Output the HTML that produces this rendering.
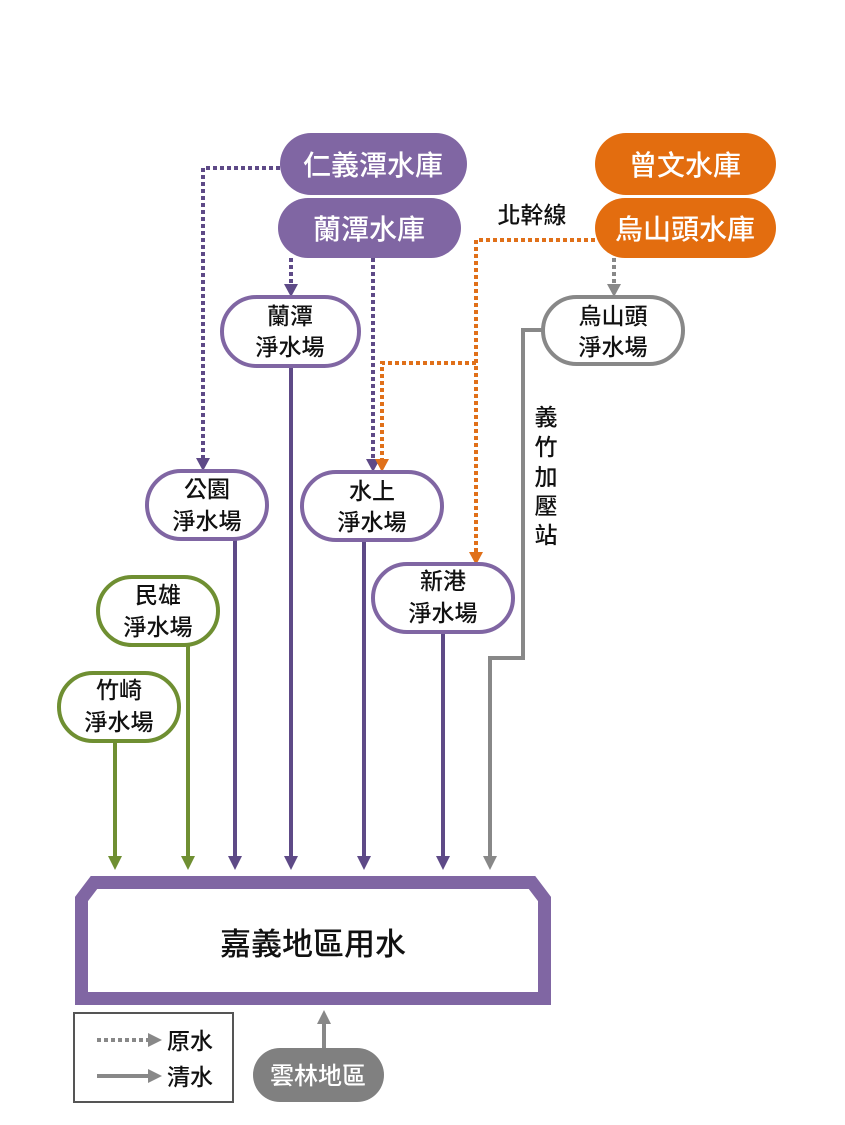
<!DOCTYPE html>
<html><head><meta charset="utf-8"><style>
html,body{margin:0;padding:0;background:#fff;}
svg{display:block;}
text{font-family:"Liberation Sans","Noto Sans CJK TC",sans-serif;font-weight:500;}
</style></head><body>
<svg width="845" height="1125" viewBox="0 0 845 1125" xmlns="http://www.w3.org/2000/svg">
<g fill="none" stroke-width="4" stroke-dasharray="4 3">
<path d="M280 168 H203 V460" stroke="#5e4a87"/>
<path d="M291 258 V286" stroke="#5e4a87"/>
<path d="M373 258 V462" stroke="#5e4a87"/>
<path d="M595 240 H476 V555" stroke="#e07019"/>
<path d="M476 363 H382 V462" stroke="#e07019"/>
<path d="M614 258 V286" stroke="#888"/>
</g>
<g>
<polygon points="196,458 210,458 203,471" fill="#5e4a87"/>
<polygon points="284,284 298,284 291,297" fill="#5e4a87"/>
<polygon points="366,459 380,459 373,472" fill="#5e4a87"/>
<polygon points="375,459 389,459 382,472" fill="#e07019"/>
<polygon points="469,552 483,552 476,565" fill="#e07019"/>
<polygon points="607,284 621,284 614,297" fill="#888"/>
</g>
<g fill="none" stroke-width="4">
<path d="M115 742 V858" stroke="#6f8f32"/>
<path d="M188 645 V858" stroke="#6f8f32"/>
<path d="M235 540 V858" stroke="#5e4a87"/>
<path d="M291 367 V858" stroke="#5e4a87"/>
<path d="M364 540 V858" stroke="#5e4a87"/>
<path d="M443 632 V858" stroke="#5e4a87"/>
<path d="M545 330 H523 V658 H490 V858" stroke="#888"/>
<path d="M324 1048 V1022" stroke="#888"/>
</g>
<g>
<polygon points="108,856 122,856 115,870" fill="#6f8f32"/>
<polygon points="181,856 195,856 188,870" fill="#6f8f32"/>
<polygon points="228,856 242,856 235,870" fill="#5e4a87"/>
<polygon points="284,856 298,856 291,870" fill="#5e4a87"/>
<polygon points="357,856 371,856 364,870" fill="#5e4a87"/>
<polygon points="436,856 450,856 443,870" fill="#5e4a87"/>
<polygon points="483,856 497,856 490,870" fill="#888"/>
<polygon points="317,1024 331,1024 324,1010" fill="#888"/>
</g>
<rect x="280" y="133" width="187" height="62" rx="31" fill="#8066a3"/>
<text x="373" y="175" font-size="28" fill="#fff" text-anchor="middle">仁義潭水庫</text>
<rect x="278" y="198" width="183" height="60" rx="30" fill="#8066a3"/>
<text x="369" y="239" font-size="28" fill="#fff" text-anchor="middle">蘭潭水庫</text>
<rect x="595" y="133" width="181" height="62" rx="31" fill="#e36d0f"/>
<text x="685" y="175" font-size="28" fill="#fff" text-anchor="middle">曾文水庫</text>
<rect x="595" y="198" width="181" height="60" rx="30" fill="#e36d0f"/>
<text x="685" y="239" font-size="28" fill="#fff" text-anchor="middle">烏山頭水庫</text>
<text x="532" y="223" font-size="23" fill="#111" text-anchor="middle">北幹線</text>
<g fill="#fff" stroke-width="4">
<rect x="222" y="297" width="137" height="69" rx="34.5" stroke="#8066a3"/>
<rect x="543" y="297" width="140" height="67" rx="33.5" stroke="#888"/>
<rect x="147" y="471" width="120" height="68" rx="34" stroke="#8066a3"/>
<rect x="302" y="472" width="140" height="68" rx="34" stroke="#8066a3"/>
<rect x="373" y="564" width="140" height="68" rx="34" stroke="#8066a3"/>
<rect x="98" y="577" width="120" height="68" rx="34" stroke="#6f8f32"/>
<rect x="59" y="673" width="120" height="68" rx="34" stroke="#6f8f32"/>
</g>
<g font-size="23" fill="#111" text-anchor="middle">
<text x="290" y="324">蘭潭</text><text x="290" y="355">淨水場</text>
<text x="613" y="324">烏山頭</text><text x="613" y="355">淨水場</text>
<text x="207" y="497">公園</text><text x="207" y="529">淨水場</text>
<text x="372" y="499">水上</text><text x="372" y="530">淨水場</text>
<text x="443" y="589">新港</text><text x="443" y="621">淨水場</text>
<text x="158" y="603">民雄</text><text x="158" y="635">淨水場</text>
<text x="119" y="698">竹崎</text><text x="119" y="730">淨水場</text>
</g>
<g font-size="23" fill="#111" text-anchor="middle">
<text x="546" y="425">義</text><text x="546" y="455">竹</text><text x="546" y="485">加</text><text x="546" y="514">壓</text><text x="546" y="543">站</text>
</g>
<path d="M81.5 899 L94 882.5 H532 L544.5 899 V998.5 H81.5 Z" fill="#fff" stroke="#8066a3" stroke-width="13"/>
<text x="313" y="955" font-size="31" fill="#111" text-anchor="middle">嘉義地區用水</text>
<rect x="74" y="1013" width="159" height="89" fill="#fff" stroke="#555" stroke-width="2"/>
<line x1="97" y1="1040" x2="148" y2="1040" stroke="#888" stroke-width="4" stroke-dasharray="4 3"/>
<polygon points="148,1033 162,1040 148,1047" fill="#888"/>
<line x1="97" y1="1076" x2="150" y2="1076" stroke="#888" stroke-width="4"/>
<polygon points="148,1069 162,1076 148,1083" fill="#888"/>
<text x="167" y="1049" font-size="23" fill="#111">原水</text>
<text x="167" y="1085" font-size="23" fill="#111">清水</text>
<rect x="253" y="1048" width="131" height="54" rx="27" fill="#808080"/>
<text x="318" y="1084" font-size="24" fill="#fff" text-anchor="middle">雲林地區</text>
</svg>
</body></html>
